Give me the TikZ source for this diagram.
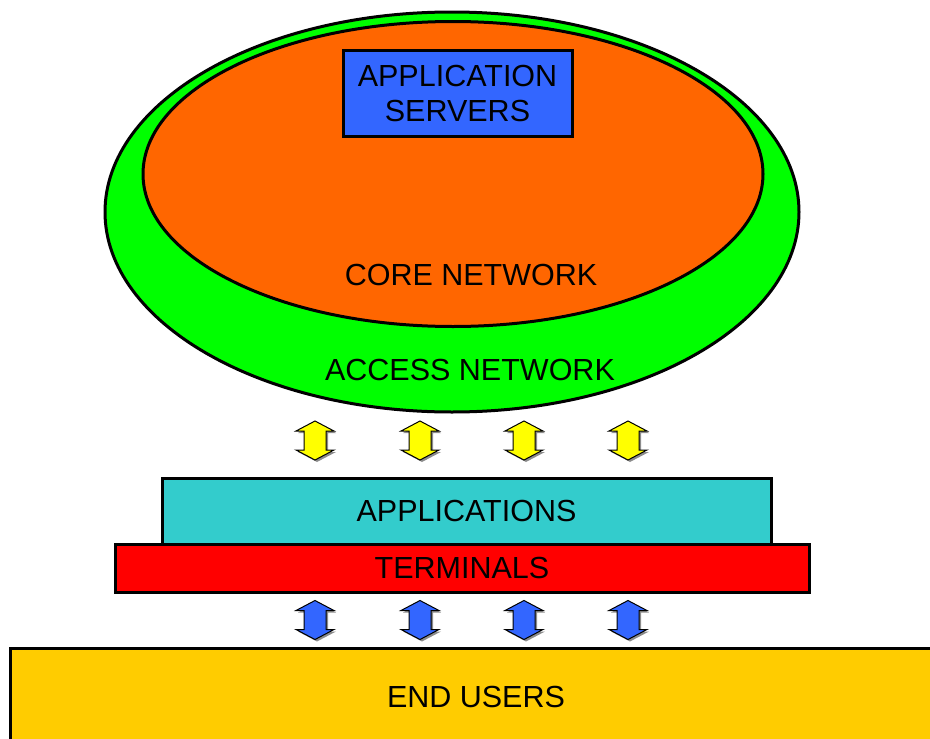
\documentclass[tikz,border=0pt]{standalone}
\usepackage{fontspec}
\setmainfont{Liberation Sans}
\usetikzlibrary{shapes.geometric}
\definecolor{accgreen}{HTML}{00FF00}
\definecolor{coreorange}{HTML}{FF6600}
\definecolor{srvblue}{HTML}{3366FF}
\definecolor{appcyan}{HTML}{33CCCC}
\definecolor{termred}{HTML}{FF0000}
\definecolor{arryellow}{HTML}{FFFF00}
\definecolor{usergold}{HTML}{FFCC00}
\newcommand\dblarr[3]{%
  \begin{scope}[shift={(#1,#2)}]
    \fill[black!45] (2,-17.5) -- (21,-7.5) -- (13,-7.5) -- (13,11.5) -- (21,11.5) -- (2,21.5) -- (-17,11.5) -- (-9,11.5) -- (-9,-7.5) -- (-17,-7.5) -- cycle;
    \draw[arrline, fill=#3] (0,-19.5) -- (19,-9.5) -- (11,-9.5) -- (11,9.5) -- (19,9.5) -- (0,19.5) -- (-19,9.5) -- (-11,9.5) -- (-11,-9.5) -- (-19,-9.5) -- cycle;
  \end{scope}}
\begin{document}
\begin{tikzpicture}[x=1pt,y=-1pt,
  every node/.style={font=\fontsize{30.5}{35}\selectfont, text=black},
  boxline/.style={draw=black, line width=3pt},
  arrline/.style={draw=black, line width=1pt, line join=miter},
  lbl/.style={inner sep=0pt, align=center}]
\useasboundingbox (0,0) rectangle (930,739);
\clip (0,0) rectangle (930,739);
% networks
\node[boxline, ellipse, fill=accgreen, minimum width=694, minimum height=400, inner sep=0pt] (access) at (452,212) {};
\node[boxline, ellipse, fill=coreorange, minimum width=620, minimum height=305, inner sep=0pt] (core) at (453,174) {};
\node[boxline, rectangle, fill=srvblue, minimum width=229, minimum height=86, inner sep=0pt, align=center] (servers) at (457.5,93) {APPLICATION\\SERVERS};
\node[lbl] (corelbl) at (471,275) {CORE NETWORK};
\node[lbl] (acclbl) at (470,370) {ACCESS NETWORK};
% terminal stack
\node[boxline, rectangle, fill=appcyan, minimum width=609, minimum height=66, inner sep=0pt] (apps) at (466.5,511) {APPLICATIONS};
\node[boxline, rectangle, fill=termred, minimum width=694, minimum height=48, inner sep=0pt] (terms) at (462,568) {TERMINALS};
\node[boxline, rectangle, fill=usergold, minimum width=932, minimum height=98, inner sep=0pt] (users) at (476,697) {END USERS};
% arrows
\foreach \ax in {315,420,524,628} {
  \dblarr{\ax}{440.5}{arryellow}
  \dblarr{\ax}{620}{srvblue}
}
\end{tikzpicture}
\end{document}
